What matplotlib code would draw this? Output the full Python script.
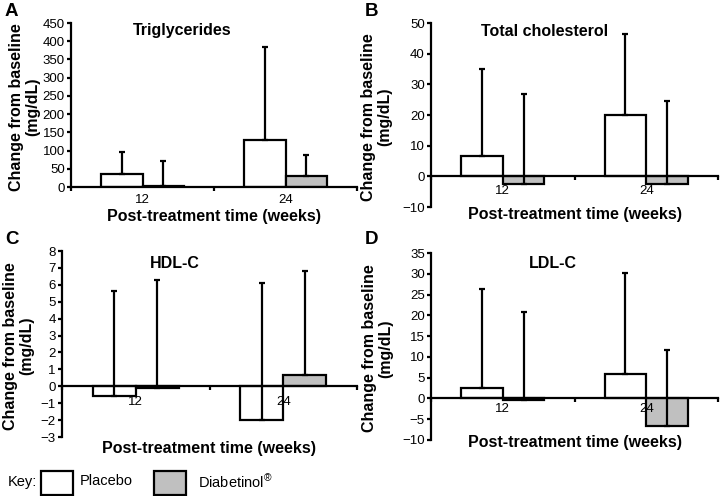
import matplotlib
matplotlib.use("Agg")
import matplotlib.pyplot as plt
import numpy as np
from matplotlib.patches import Rectangle

plt.rcParams['font.family'] = ['Liberation Sans', 'DejaVu Sans']
plt.rcParams['mathtext.fontset'] = 'custom'
plt.rcParams['mathtext.rm'] = 'Liberation Sans'
plt.rcParams['mathtext.it'] = 'Liberation Sans'
plt.rcParams['mathtext.default'] = 'rm'

weeks = ["12", "24"]
groups = ["Placebo", "Diabetinol"]

tg_placebo = [35, 128]
tg_placebo_err = [62, 257]
tg_diab = [3, 30]
tg_diab_err = [67, 58]

tc_placebo = [6.5, 20]
tc_placebo_err = [28.5, 26.5]
tc_diab = [-2.5, -2.5]
tc_diab_err = [29.5, 27]

hdl_placebo = [-0.55, -2.0]
hdl_placebo_err = [6.2, 8.1]
hdl_diab = [-0.1, 0.65]
hdl_diab_err = [6.4, 6.15]

ldl_placebo = [2.5, 6.0]
ldl_placebo_err = [23.8, 24.3]
ldl_diab = [-0.3, -6.7]
ldl_diab_err = [21.1, 18.4]

panels = [
    dict(letter="A", title="Triglycerides", p=tg_placebo, pe=tg_placebo_err, d=tg_diab, de=tg_diab_err,
         ylim=(0, 450), yticks=np.arange(0, 451, 50), pos=(71, 23, 357, 187), title_xy=(182, 31),
         xl_y=217, yl_x=25, letter_xy=(5, 11), pad=5),
    dict(letter="B", title="Total cholesterol", p=tc_placebo, pe=tc_placebo_err, d=tc_diab, de=tc_diab_err,
         ylim=(-10, 50), yticks=np.arange(-10, 51, 10), pos=(431, 23, 718, 207), title_xy=(545, 32),
         xl_y=215, yl_x=377, letter_xy=(365, 11), pad=6),
    dict(letter="C", title="HDL-C", p=hdl_placebo, pe=hdl_placebo_err, d=hdl_diab, de=hdl_diab_err,
         ylim=(-3, 8), yticks=np.arange(-3, 9, 1), pos=(62, 251, 357, 437), title_xy=(175, 263),
         xl_y=448, yl_x=19, letter_xy=(5, 240), pad=7),
    dict(letter="D", title="LDL-C", p=ldl_placebo, pe=ldl_placebo_err, d=ldl_diab, de=ldl_diab_err,
         ylim=(-10, 35), yticks=np.arange(-10, 36, 5), pos=(431, 253, 718, 440), title_xy=(553, 263),
         xl_y=443, yl_x=378, letter_xy=(365, 240), pad=3),
]

W, H = 721, 496
fig = plt.figure(figsize=(W / 100, H / 100), dpi=100)

grey = "#c0c0c0"
lw = 1.6
bw = 0.29
x = np.arange(len(weeks))

for pn in panels:
    l, t, r, b = pn["pos"]
    ax = fig.add_axes([l / W, 1 - b / H, (r - l) / W, (b - t) / H])
    ax.set_axisbelow(False)
    ax.bar(x - bw / 2, pn["p"], width=bw, color="white", edgecolor="black", linewidth=lw, zorder=2)
    ax.bar(x + bw / 2, pn["d"], width=bw, color=grey, edgecolor="black", linewidth=lw, zorder=2)
    ax.errorbar(x - bw / 2, pn["p"], yerr=[np.zeros(2), pn["pe"]], fmt="none", ecolor="black",
                elinewidth=lw, capsize=2.5, capthick=lw, zorder=3)
    ax.errorbar(x + bw / 2, pn["d"], yerr=[np.zeros(2), pn["de"]], fmt="none", ecolor="black",
                elinewidth=lw, capsize=2.5, capthick=lw, zorder=3)
    ax.set_xlim(-0.5, 1.5)
    ax.set_ylim(*pn["ylim"])
    ax.set_yticks(pn["yticks"])
    ax.set_yticklabels([str(v) if v >= 0 else "\u2212" + str(-v) for v in pn["yticks"]])
    ax.spines["top"].set_visible(False)
    ax.spines["right"].set_visible(False)
    ax.spines["left"].set_linewidth(lw)
    ax.spines["bottom"].set_linewidth(lw)
    ax.spines["bottom"].set_position(("data", 0))
    ax.spines["bottom"].set_zorder(4)
    ax.set_xticks([-0.5, 0.5, 1.5])
    ax.set_xticklabels(["", "", ""])
    ax.set_xticks(x, minor=True)
    ax.set_xticklabels(weeks, minor=True)
    ax.tick_params(axis="x", which="major", direction="out", length=3, width=lw)
    ax.tick_params(axis="x", which="minor", length=0, labelsize=9.5, pad=pn["pad"])
    ax.tick_params(axis="y", direction="out", length=3, width=lw, labelsize=9.5, pad=1.5)
    ax.patch.set_visible(False)
    fig.text(pn["title_xy"][0] / W, 1 - pn["title_xy"][1] / H, pn["title"], fontsize=11.5,
             fontweight="bold", ha="center", va="center")
    fig.text(((l + r) / 2) / W, 1 - pn["xl_y"] / H, "Post-treatment time (weeks)", fontsize=11.5,
             fontweight="bold", ha="center", va="center")
    fig.text(pn["yl_x"] / W, 1 - ((t + b) / 2 + 2) / H, "Change from baseline\n(mg/dL)", fontsize=11.5,
             fontweight="bold", ha="center", va="center", rotation=90, linespacing=1.1)
    fig.text(pn["letter_xy"][0] / W, 1 - pn["letter_xy"][1] / H, pn["letter"], fontsize=13.5,
             fontweight="bold", ha="left", va="center")

# Key
fig.text(8 / W, 1 - 482 / H, "Key:", fontsize=10.5, ha="left", va="center")
fig.patches.append(Rectangle((41 / W, 1 - 495 / H), 32 / W, 24 / H, transform=fig.transFigure,
                             facecolor="white", edgecolor="black", linewidth=lw))
fig.text(80 / W, 1 - 481 / H, groups[0], fontsize=10.5, ha="left", va="center")
fig.patches.append(Rectangle((154 / W, 1 - 495 / H), 32 / W, 24 / H, transform=fig.transFigure,
                             facecolor=grey, edgecolor="black", linewidth=lw))
fig.text(198 / W, 1 - 482 / H, groups[1] + "$^{\u00ae}$", fontsize=10.5, ha="left", va="center")

fig.savefig("out.png", dpi=100)
